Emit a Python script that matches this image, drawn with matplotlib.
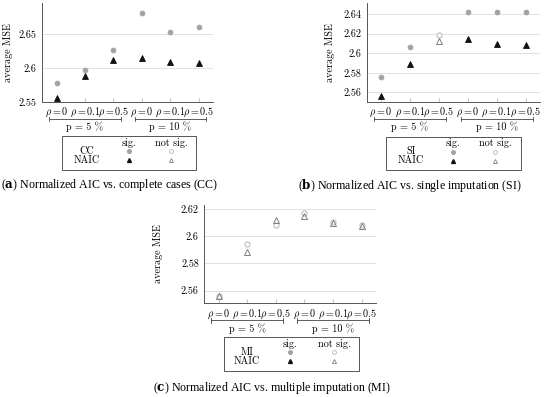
import matplotlib
matplotlib.use("Agg")
import matplotlib.pyplot as plt
from matplotlib.lines import Line2D
from matplotlib.patches import Rectangle
import matplotlib.transforms as mtransforms

plt.rcParams['mathtext.fontset'] = 'cm'
plt.rcParams['font.family'] = ['cmr10', 'DejaVu Serif']
plt.rcParams['axes.unicode_minus'] = False

# ---- data ----
tick_labels = [r'$\rho=0$', r'$\rho=0.1$', r'$\rho=0.5$', r'$\rho=0$', r'$\rho=0.1$', r'$\rho=0.5$']
group_labels = ['p = 5 %', 'p = 10 %']
naic_mse = [2.5563, 2.5887, 2.6120, 2.6146, 2.6095, 2.6079]
cc_mse = [2.5775, 2.5980, 2.6275, 2.6820, 2.6535, 2.6612]
si_mse = [2.5753, 2.6064, 2.6186, 2.6417, 2.6417, 2.6417]
mi_mse = [2.5560, 2.5944, 2.6086, 2.6171, 2.6103, 2.6081]
cc_sig = [True, True, True, True, True, True]
si_sig = [True, True, False, True, True, True]
mi_sig = [False, False, False, False, False, False]
naic_sig_a = [True, True, True, True, True, True]
naic_sig_b = [True, True, False, True, True, True]
naic_sig_c = [False, False, False, False, False, False]
y_ticks_a = [2.55, 2.6, 2.65]
y_ticks_b = [2.56, 2.58, 2.6, 2.62, 2.64]
y_ticks_c = [2.56, 2.58, 2.6, 2.62]

W, H = 550, 397
fig = plt.figure(figsize=(W / 100, H / 100), dpi=100)

GRAY_FILL = '#a2a2a2'
GRAY_OPEN_C = '#b5b5b5'
GRAY_OPEN_T = '#7f7f7f'
FS = 7.3


def px_rect(l, r, t, b):
    return [l / W, 1 - b / H, (r - l) / W, (b - t) / H]


def draw_panel(rect, ref_vals, ref_sig, naic_vals, naic_sig, ylim, yticks,
               ylab_x, ref_name, legend_box, caption, cap_xy, bold_letter):
    ax = fig.add_axes(rect)
    x = list(range(len(ref_vals)))
    for xi, v, s in zip(x, ref_vals, ref_sig):
        if s:
            ax.plot(xi, v, 'o', ms=3.5, mfc=GRAY_FILL, mec=GRAY_FILL, mew=0.6, zorder=3)
        else:
            ax.plot(xi, v, 'o', ms=3.7, mfc='white', mec=GRAY_OPEN_C, mew=0.7, zorder=3)
    for xi, v, s in zip(x, naic_vals, naic_sig):
        if s:
            ax.plot(xi, v, '^', ms=3.7, mfc='#111111', mec='#111111', mew=0.6, zorder=4)
        else:
            ax.plot(xi, v, '^', ms=3.9, mfc='none', mec=GRAY_OPEN_T, mew=0.7, zorder=4)
    ax.set_xlim(-0.5, 5.5)
    ax.set_ylim(*ylim)
    ax.set_yticks(yticks)
    ax.set_yticklabels([('%g' % t) for t in yticks], fontsize=FS)
    ax.set_xticks(x)
    ax.set_xticklabels(tick_labels, fontsize=FS)
    ax.tick_params(axis='y', length=0, pad=4)
    ax.tick_params(axis='x', direction='in', length=3, color='#c8c8c8', pad=3)
    ax.grid(axis='y', color='#dcdcdc', lw=0.6)
    ax.set_axisbelow(True)
    for s in ['top', 'right']:
        ax.spines[s].set_visible(False)
    for s in ['left', 'bottom']:
        ax.spines[s].set_color('#555555')
        ax.spines[s].set_linewidth(0.7)
    ax.set_ylabel('average MSE', fontsize=FS)
    ax.yaxis.set_label_coords(ylab_x, 0.5)
    # group brackets
    trans = mtransforms.blended_transform_factory(ax.transData, ax.transAxes)
    for (x0, x1), g in zip([(-0.25, 2.25), (2.75, 5.25)], group_labels):
        yb = -0.172
        ax.plot([x0, x1], [yb, yb], color='#444444', lw=0.6, transform=trans, clip_on=False)
        for xe in (x0, x1):
            ax.plot([xe, xe], [yb - 0.025, yb + 0.025], color='#444444', lw=0.6,
                    transform=trans, clip_on=False)
        ax.text((x0 + x1) / 2, -0.255, g, transform=trans, ha='center', va='center',
                fontsize=FS)
    # legend box
    l, r, t, b, xrow, xs, xn = legend_box
    ft = fig.transFigure
    fig.patches.append(Rectangle((l / W, 1 - b / H), (r - l) / W, (b - t) / H,
                                 transform=ft, fill=False, ec='#555555', lw=0.7))
    yh = t + 6.5
    y1 = t + 15
    y2 = t + 24
    fig.text(xs / W, 1 - yh / H, 'sig.', ha='center', va='center', fontsize=FS)
    fig.text(xn / W, 1 - yh / H, 'not sig.', ha='center', va='center', fontsize=FS)
    fig.text(xrow / W, 1 - y1 / H, ref_name, ha='center', va='center', fontsize=FS)
    fig.text(xrow / W, 1 - y2 / H, 'NAIC', ha='center', va='center', fontsize=FS)
    fig.lines.append(Line2D([xs / W], [1 - y1 / H], marker='o', ms=2.6, mfc=GRAY_FILL,
                            mec=GRAY_FILL, ls='none', transform=ft))
    fig.lines.append(Line2D([xn / W], [1 - y1 / H], marker='o', ms=2.8, mfc='white',
                            mec=GRAY_OPEN_C, mew=0.6, ls='none', transform=ft))
    fig.lines.append(Line2D([xs / W], [1 - y2 / H], marker='^', ms=2.8, mfc='#111111',
                            mec='#111111', ls='none', transform=ft))
    fig.lines.append(Line2D([xn / W], [1 - y2 / H], marker='^', ms=2.9, mfc='none',
                            mec=GRAY_OPEN_T, mew=0.6, ls='none', transform=ft))
    # caption
    cx, cy = cap_xy
    fig.text(cx / W, 1 - cy / H, r'(' + r'$\mathbf{' + bold_letter + r'}$' + r')' + caption,
             ha='center', va='center', fontsize=8.6,
             family=['Liberation Serif', 'DejaVu Serif'], math_fontfamily='dejavuserif')
    return ax


draw_panel(px_rect(42.3, 213, 3.3, 102), cc_mse, cc_sig, naic_mse, naic_sig_a,
           (2.55, 2.696), y_ticks_a, -0.173, 'CC',
           (62, 196, 136, 170, 87, 129, 171),
           ' Normalized AIC vs. complete cases (CC)', (110, 185), 'a')

draw_panel(px_rect(366.7, 540, 3.3, 102), si_mse, si_sig, naic_mse, naic_sig_b,
           (2.5502, 2.6508), y_ticks_b, -0.185, 'SI',
           (386, 521, 136.5, 170, 411, 453, 495),
           ' Normalized AIC vs. single imputation (SI)', (410, 186), 'b')

draw_panel(px_rect(204.3, 376, 204.7, 303.3), mi_mse, mi_sig, naic_mse, naic_sig_c,
           (2.5507, 2.6232), y_ticks_c, -0.239, 'MI',
           (224.3, 359.3, 337.3, 371, 246.7, 290, 334),
           ' Normalized AIC vs. multiple imputation (MI)', (272, 388.5), 'c')

fig.savefig('out.png', dpi=100)
